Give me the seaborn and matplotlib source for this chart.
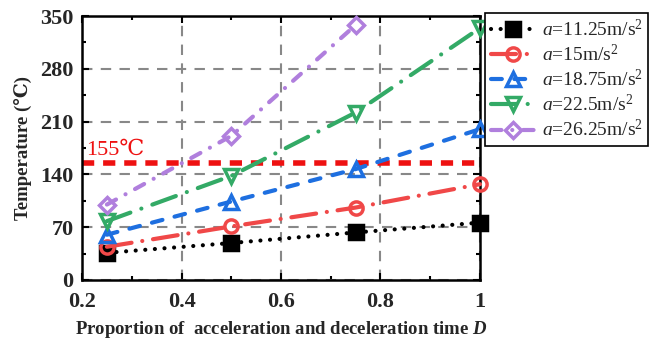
import matplotlib
matplotlib.use('Agg')
import matplotlib.pyplot as plt
import seaborn as sns
import pandas as pd
from matplotlib.ticker import MultipleLocator

# ---- data ----
D = [0.25, 0.5, 0.75, 1.0]
T_a11_25 = [36, 49, 63, 76]
T_a15 = [44, 71, 96, 127]
T_a18_75 = [60, 104, 147, 200]
T_a22_5 = [78, 138, 222, 334]
T_a26_25 = [100, 191, 338]          # no point at D=1 (off scale)
labels = [r'$a$=11.25m/s$^2$', r'$a$=15m/s$^2$', r'$a$=18.75m/s$^2$',
          r'$a$=22.5m/s$^2$', r'$a$=26.25m/s$^2$']
limit_T = 155
limit_label = '155℃'
xlabel = 'Proportion of  acceleration and deceleration time $\\mathbfit{D}$'
ylabel = 'Temperature (℃)'

sns.set_theme(style='ticks')
plt.rcParams['font.family'] = ['Liberation Serif', 'DejaVu Serif']
plt.rcParams['mathtext.fontset'] = 'custom'
plt.rcParams['mathtext.rm'] = 'Liberation Serif'
plt.rcParams['mathtext.it'] = 'Liberation Serif:italic'
plt.rcParams['mathtext.bf'] = 'Liberation Serif:bold'
plt.rcParams['mathtext.bfit'] = 'Liberation Serif:bold:italic'

fig = plt.figure(figsize=(6.53, 3.41), dpi=100)
ax = fig.add_axes([0.1256, 0.179, 0.6094, 0.774])

series = [
    (T_a11_25, '#000000', 's', (0.01, 2.3), 'black'),
    (T_a15, '#F04848', 'o', (6, 2.6, 0.01, 2.6), 'none'),
    (T_a18_75, '#1E6FE0', '^', (2.6, 3.0), 'none'),
    (T_a22_5, '#33AA66', 'v', (6, 2.8, 0.01, 2.8), 'none'),
    (T_a26_25, '#B07FDD', 'D', (2.5, 2.6, 0.01, 2.6), 'none'),
]

for (vals, col, mk, dash, mfc), lab in zip(series, labels):
    df = pd.DataFrame({'D': D[:len(vals)], 'T': vals})
    sns.lineplot(data=df, x='D', y='T', ax=ax, color=col, marker=mk,
                 markersize=9.5 if mk != 'D' else 8.5, markerfacecolor=mfc,
                 markeredgecolor=col, markeredgewidth=2.5,
                 linewidth=3, label=lab, dashes=False, clip_on=False,
                 zorder=3)
    line = ax.lines[-1]
    line.set_dashes(dash)
    line.set_dash_capstyle('round')

ax.axhline(limit_T, color='#EE1111', linewidth=4, dashes=(2.2, 1.6), zorder=2)
ax.text(0.208, 172, limit_label, color='#EE1111', fontsize=16,
        ha='left', va='center')

ax.set_xlim(0.2, 1.0)
ax.set_ylim(0, 350)
ax.xaxis.set_major_locator(MultipleLocator(0.2))
ax.xaxis.set_minor_locator(MultipleLocator(0.1))
ax.yaxis.set_major_locator(MultipleLocator(70))
ax.yaxis.set_minor_locator(MultipleLocator(35))
ax.set_xticks([0.2, 0.4, 0.6, 0.8, 1.0])
ax.set_xticklabels(['0.2', '0.4', '0.6', '0.8', '1'])

ax.grid(True, which='major', color='#888888', linestyle=(0, (5, 4)), linewidth=1.5)
ax.tick_params(which='both', direction='in', top=True, right=True,
               color='black', width=1.5)
ax.tick_params(which='major', length=5, labelsize=16)
ax.tick_params(axis='x', which='major', pad=9)
ax.tick_params(axis='y', which='major', pad=6)
ax.tick_params(which='minor', length=3)
for lab in ax.get_xticklabels() + ax.get_yticklabels():
    lab.set_fontweight('bold')
for sp in ax.spines.values():
    sp.set_color('black')
    sp.set_linewidth(1.8)

ax.set_xlabel(xlabel, fontsize=13.5, fontweight='bold', labelpad=5)
ax.set_ylabel(ylabel, fontsize=13.5, fontweight='bold', labelpad=6)

leg = ax.legend(loc='upper left', bbox_to_anchor=(0.743, 0.962),
                bbox_transform=fig.transFigure, frameon=True, fancybox=False,
                framealpha=1, edgecolor='black', fontsize=14,
                handlelength=2.3, handletextpad=0.3, labelspacing=0.2,
                borderpad=0.3, borderaxespad=0)
leg.get_frame().set_linewidth(1.2)

fig.savefig('out.png', dpi=100)
